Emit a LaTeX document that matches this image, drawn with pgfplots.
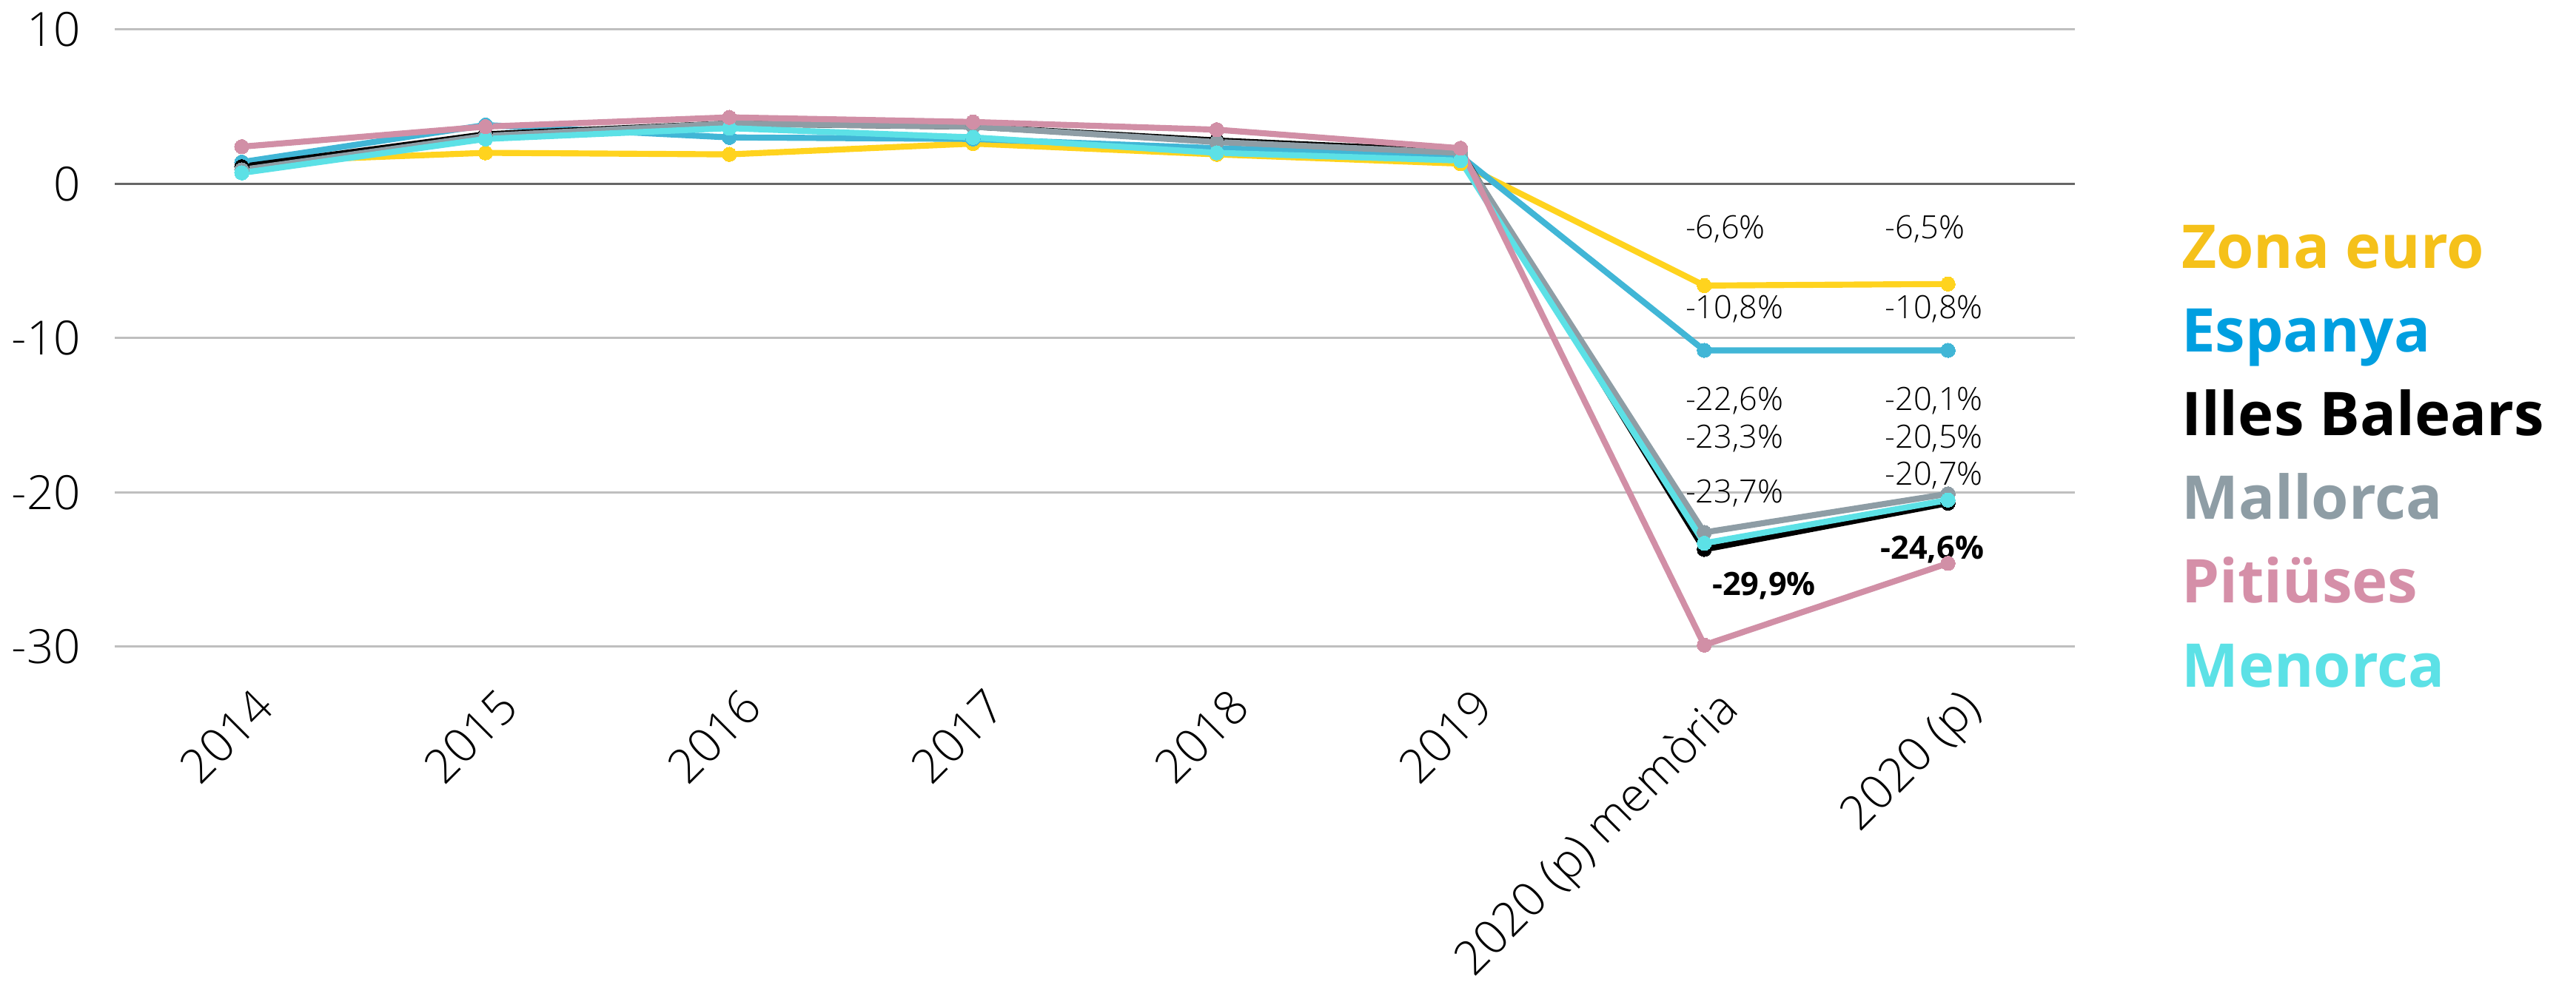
\documentclass[border=0pt]{standalone}
\usepackage{pgfplots}
\pgfplotsset{compat=1.18}
\usepackage{pgfplotstable}
\usepackage{fontspec}
\IfFontExistsTF{Open Sans Light}
  {\setmainfont{Open Sans Light}[BoldFont={Open Sans Bold}]}
  {\setmainfont{Open Sans}}

\definecolor{zona}{HTML}{FFD31E}
\definecolor{zonatxt}{HTML}{F5C11A}
\definecolor{esp}{HTML}{41B6D6}
\definecolor{esptxt}{HTML}{009FE0}
\definecolor{mall}{HTML}{8E9DA5}
\definecolor{piti}{HTML}{D18FA6}
\definecolor{pititxt}{HTML}{D58FA8}
\definecolor{meno}{HTML}{5CE1E6}
\definecolor{gridc}{HTML}{BFBFBF}
\definecolor{zeroc}{HTML}{666666}

% creixement del PIB (%)
\pgfplotstableread{
x zona esp ib mall piti meno
0 1.4 1.4 1.1 0.9 2.4 0.7
1 2.0 3.8 3.2 3.1 3.7 2.9
2 1.9 3.0 3.9 3.9 4.3 3.6
3 2.6 2.9 3.7 3.7 4.0 3.0
4 1.9 2.3 2.8 2.7 3.5 2.0
5 1.3 1.8 2.1 2.0 2.3 1.5
6 -6.6 -10.8 -23.7 -22.6 -29.9 -23.3
7 -6.5 -10.8 -20.7 -20.1 -24.6 -20.5
}\data

\newcommand{\lab}{\fontsize{8.5}{10}\selectfont}

\begin{document}
\begin{tikzpicture}
\begin{axis}[
    name=ax,
    scale only axis,
    width=519.6pt, height=163.7pt,
    xmin=-0.52, xmax=7.52, ymin=-30, ymax=10,
    axis line style={draw=none},
    tick style={draw=none},
    clip=false,
    xtick={0,...,7},
    xticklabels={2014,2015,2016,2017,2018,2019,2020 (p) memòria,2020 (p)},
    xticklabel style={xshift=2.8pt, yshift=-10.2pt, rotate=45, anchor=north east,
        inner sep=0pt, font=\fontsize{12.5}{14}\selectfont},
    ytick={-30,-20,-10,10},
    extra y ticks={0},
    extra y tick style={major grid style={draw=zeroc, line width=0.65pt}},
    ymajorgrids,
    major grid style={draw=gridc, line width=0.52pt},
    yticklabel style={inner sep=0pt, xshift=-8.9pt,
        font=\fontsize{12.5}{14}\selectfont},
    /pgf/number format/assume math mode=true,
    every axis plot/.append style={line width=1.6pt, mark=*, mark size=1.9pt,
        mark options={line width=0pt}},
    legend style={at={(axis cs:7.955,-2.45)}, anchor=north west,
        draw=none, fill=none, inner sep=0pt, row sep=10pt, column sep=0pt,
        nodes={inner sep=0pt, text height=12.2pt, text depth=0pt, anchor=west},
        font=\fontsize{16}{19}\selectfont\bfseries},
    legend cell align=left,
]
\addplot[zona, forget plot] table[x=x, y=zona] {\data};
\addplot[esp, forget plot] table[x=x, y=esp] {\data};
\addplot[black, forget plot] table[x=x, y=ib] {\data};
\addplot[mall, forget plot] table[x=x, y=mall] {\data};
\addplot[meno, forget plot] table[x=x, y=meno] {\data};
\addplot[piti, forget plot] table[x=x, y=piti] {\data};

\addlegendimage{empty legend}
\addlegendentry{\textcolor{zonatxt}{Zona euro}}
\addlegendimage{empty legend}
\addlegendentry{\textcolor{esptxt}{Espanya}}
\addlegendimage{empty legend}
\addlegendentry{\textcolor{black}{Illes Balears}}
\addlegendimage{empty legend}
\addlegendentry{\textcolor{mall}{Mallorca}}
\addlegendimage{empty legend}
\addlegendentry{\textcolor{pititxt}{Pitiüses}}
\addlegendimage{empty legend}
\addlegendentry{\textcolor{meno}{Menorca}}

% etiquetes de dades
\node[anchor=west, inner sep=0pt, font=\lab] at (axis cs:5.92,-2.95) {-6,6\%};
\node[anchor=west, inner sep=0pt, font=\lab] at (axis cs:6.738,-2.95) {-6,5\%};
\node[anchor=west, inner sep=0pt, font=\lab] at (axis cs:5.92,-8.13) {-10,8\%};
\node[anchor=west, inner sep=0pt, font=\lab] at (axis cs:6.738,-8.13) {-10,8\%};
\node[anchor=west, inner sep=0pt, font=\lab] at (axis cs:5.92,-14.06) {-22,6\%};
\node[anchor=west, inner sep=0pt, font=\lab] at (axis cs:6.738,-14.06) {-20,1\%};
\node[anchor=west, inner sep=0pt, font=\lab] at (axis cs:5.92,-16.52) {-23,3\%};
\node[anchor=west, inner sep=0pt, font=\lab] at (axis cs:6.738,-16.52) {-20,5\%};
\node[anchor=west, inner sep=0pt, font=\lab] at (axis cs:6.738,-18.93) {-20,7\%};
\node[anchor=west, inner sep=0pt, font=\lab] at (axis cs:5.92,-20.06) {-23,7\%};
\node[anchor=west, inner sep=0pt, font=\lab\bfseries] at (axis cs:6.03,-26.06) {-29,9\%};
\node[anchor=west, inner sep=0pt, font=\lab\bfseries] at (axis cs:6.72,-23.72) {-24,6\%};
\end{axis}
\pgfresetboundingbox
\path ([xshift=-30.5pt,yshift=-88.9pt]ax.south west)
  rectangle ([xshift=132.9pt,yshift=7.8pt]ax.north east);
\end{tikzpicture}
\end{document}
